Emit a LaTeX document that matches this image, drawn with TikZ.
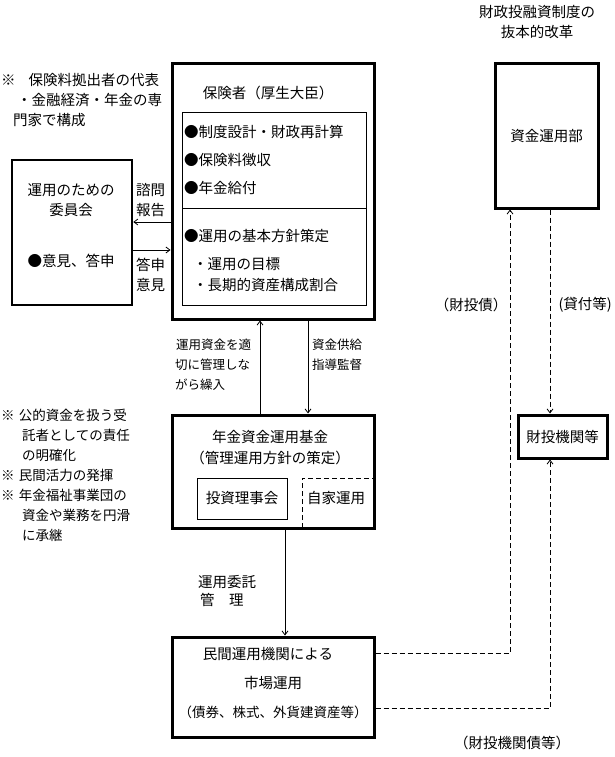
\documentclass[tikz,border=0pt]{standalone}
\usepackage{fontspec}
\setmainfont{Noto Sans CJK JP}
\usetikzlibrary{arrows.meta}
\begin{document}
\begin{tikzpicture}[x=1pt,y=-1pt,
  thinbox/.style={draw,line width=0.8pt},
  txt/.style={inner sep=0pt,font=\fontsize{14.5}{17}\selectfont},
  small/.style={inner sep=0pt,font=\fontsize{12.5}{15}\selectfont},
  note/.style={inner sep=0pt,anchor=west,font=\fontsize{13.5}{16}\selectfont},
  arr/.style={line width=0.8pt,-{Straight Barb[length=4pt,width=6pt]}},
  dsh/.style={line width=0.8pt,dash pattern=on 5pt off 3pt},
  darr/.style={dsh,-{Straight Barb[length=4pt,width=6pt]}}
]
\useasboundingbox (0,0) rectangle (615,757);
% boxes
\node[draw,line width=3pt,minimum width=202pt,minimum height=255pt,inner sep=0pt] (hoken) at (273,191.5) {};
\node[thinbox,minimum width=184pt,minimum height=193pt,inner sep=0pt] (inner) at (274,208.5) {};
\coordinate (divL) at (182,208);
\coordinate (divR) at (366,208);
\draw[line width=0.8pt] (divL) -- (divR);
\node[draw,line width=2.5pt,minimum width=120pt,minimum height=145pt,inner sep=0pt] (iin) at (72,232.5) {};
\node[draw,line width=3pt,minimum width=202pt,minimum height=113pt,inner sep=0pt] (kikin) at (273,471.5) {};
\node[thinbox,minimum width=90pt,minimum height=41pt,inner sep=0pt] (toushi) at (242,498.5) {};
\node[draw,line width=3pt,minimum width=202pt,minimum height=100pt,inner sep=0pt] (minkan) at (273,687) {};
\node[draw,line width=3pt,minimum width=103pt,minimum height=144pt,inner sep=0pt] (shikin) at (546.5,136) {};
\node[draw,line width=3pt,minimum width=89pt,minimum height=43pt,inner sep=0pt] (zaito) at (562.5,436.5) {};
% self-management dashed
\coordinate (jk1) at (302,528);
\coordinate (jk2) at (302,478);
\coordinate (jk3) at (372.5,478);
\draw[dsh] (jk1) -- (jk2) -- (jk3);
% texts in hoken
\node[txt] (t1) at (268,93) {保険者（厚生大臣）};
\node[txt,anchor=west] (t2) at (184,132) {●制度設計・財政再計算};
\node[txt,anchor=west] (t3) at (184,160) {●保険料徴収};
\node[txt,anchor=west] (t4) at (184,188) {●年金給付};
\node[txt,anchor=west] (t5) at (184,236) {●運用の基本方針策定};
\node[txt,anchor=west] (t6) at (193,264) {・運用の目標};
\node[txt,anchor=west] (t7) at (193,285) {・長期的資産構成割合};
% committee
\node[txt] (c1) at (71,190) {運用のための};
\node[txt] (c2) at (71,210) {委員会};
\node[txt] (c3) at (71,261) {●意見、答申};
\node[txt,anchor=west] (l1) at (136,190) {諮問};
\node[txt,anchor=west] (l2) at (136,210) {報告};
\node[txt,anchor=west] (l3) at (136,265) {答申};
\node[txt,anchor=west] (l4) at (136,285) {意見};
\draw[arr] (hoken.west |- 0,222) -- (iin.east |- 0,222);
\draw[arr] (iin.east |- 0,250) -- (hoken.west |- 0,250);
% notes top-left
\node[txt,anchor=west] (n1) at (1,80) {※\hspace{0.9em}保険料拠出者の代表};
\node[txt,anchor=west] (n2) at (17,100) {・金融経済・年金の専};
\node[txt,anchor=west] (n3) at (13,120) {門家で構成};
% notes bottom-left
\node[note] (m1) at (1,415) {※\hspace{0.3em}公的資金を扱う受};
\node[note] (m2) at (22,435) {託者としての責任};
\node[note] (m3) at (22,455) {の明確化};
\node[note] (m4) at (1,475) {※\hspace{0.3em}民間活力の発揮};
\node[note] (m5) at (1,495) {※\hspace{0.3em}年金福祉事業団の};
\node[note] (m6) at (22,515) {資金や業務を円滑};
\node[note] (m7) at (22,535) {に承継};
% arrows hoken <-> kikin
\draw[arr] (kikin.north -| 260,0) -- (hoken.south -| 260,0);
\draw[arr] (hoken.south -| 308,0) -- (kikin.north -| 308,0);
\node[small,anchor=west] (a1) at (176,345) {運用資金を適};
\node[small,anchor=west] (a2) at (175,365) {切に管理しな};
\node[small,anchor=west] (a3) at (175,385) {がら繰入};
\node[small,anchor=west] (b1) at (312,345) {資金供給};
\node[small,anchor=west] (b2) at (312,365) {指導監督};
% kikin texts
\node[txt] (k1) at (270,437) {年金資金運用基金};
\node[txt] (k2) at (270,458) {（管理運用方針の策定）};
\node[txt] (k3) at (toushi) {投資理事会};
\node[txt] (k4) at (336,498) {自家運用};
% kikin -> minkan
\draw[arr] (kikin.south -| 285,0) -- (minkan.north -| 285,0);
\node[txt,anchor=west] (u1) at (198,582) {運用委託};
\node[txt,anchor=west] (u2) at (200,600) {管\hspace{1em}理};
% minkan texts
\node[txt] (p1) at (268,654) {民間運用機関による};
\node[txt] (p2) at (273,683) {市場運用};
\node[txt,font=\fontsize{13.5}{16}\selectfont] (p3) at (273,712) {（債券、株式、外貨建資産等）};
% right side
\node[txt] (r1) at (537,12) {財政投融資制度の};
\node[txt] (r2) at (537,32) {抜本的改革};
\node[txt] (r3) at (shikin) {資金運用部};
\node[txt] (r4) at (zaito) {財投機関等};
\node[txt] (r5) at (471,305) {（財投債）};
\node[txt,anchor=east] (r6) at (612,305) {(貸付等)};
\node[txt] (r7) at (512,743) {（財投機関債等）};
\draw[darr] (minkan.east |- 0,653) -| (shikin.south -| 510,0);
\draw[darr] (shikin.south -| 550,0) -- (zaito.north -| 550,0);
\draw[darr] (minkan.east |- 0,708) -| (zaito.south -| 550,0);
\end{tikzpicture}
\end{document}
